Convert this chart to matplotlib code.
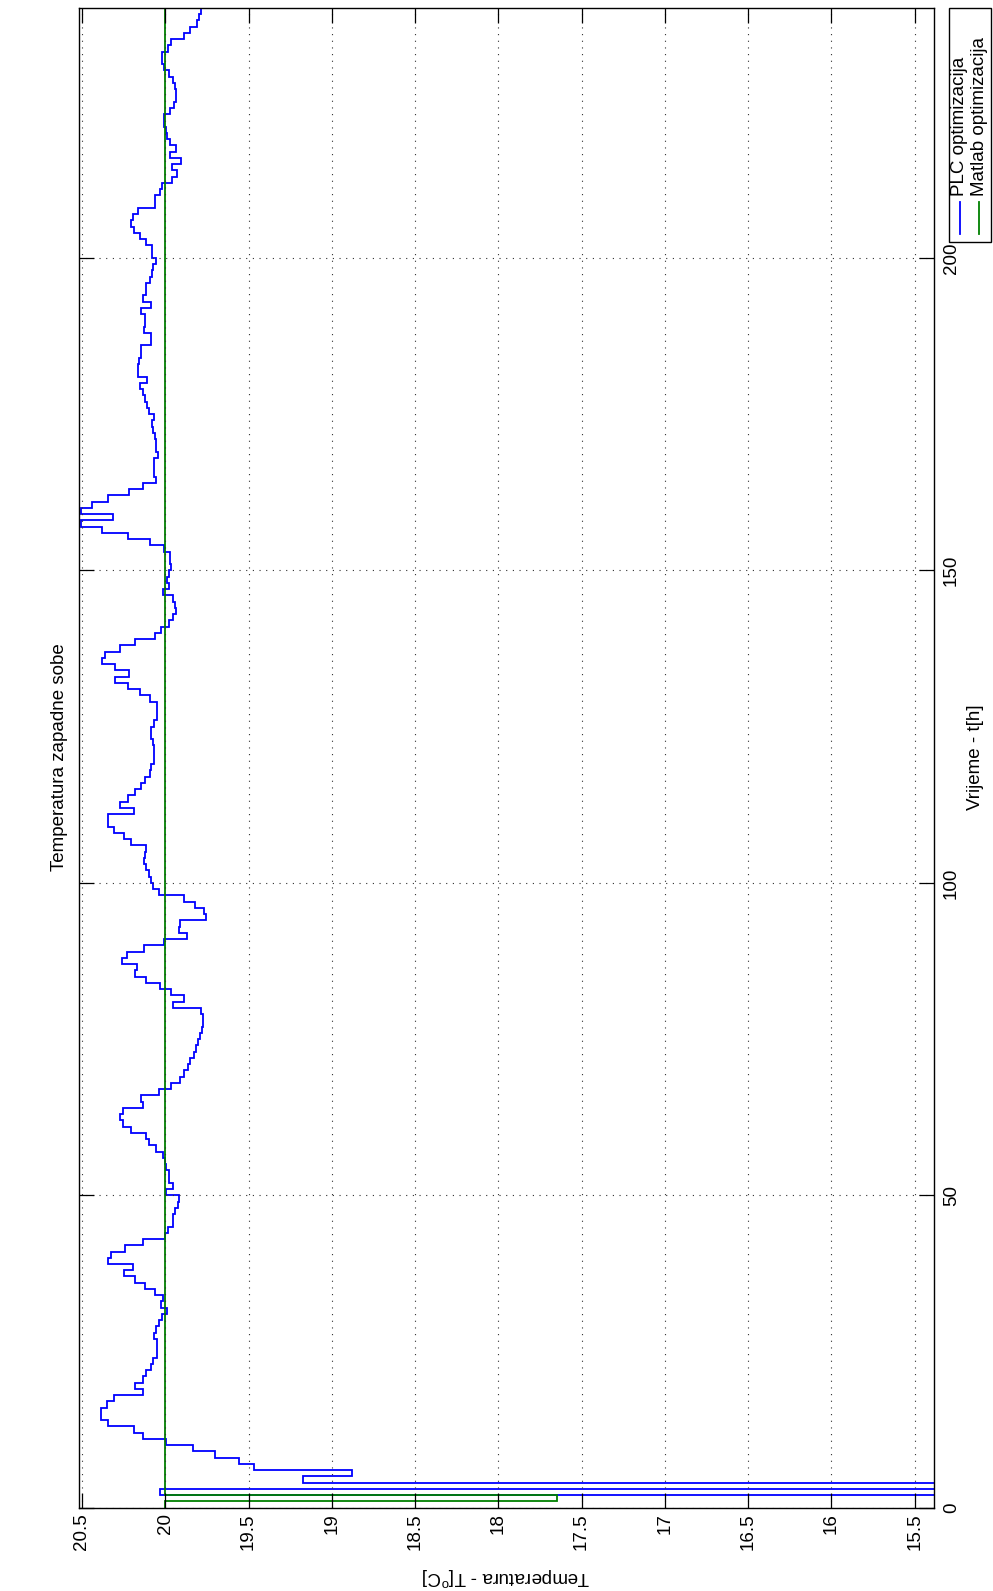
import numpy as np
import matplotlib
matplotlib.use('Agg')
import matplotlib.pyplot as plt
from matplotlib.lines import Line2D
from matplotlib.patches import Rectangle

plt.rcParams['font.family'] = ['Liberation Sans', 'DejaVu Sans']
plt.rcParams['mathtext.fontset'] = 'custom'
plt.rcParams['mathtext.rm'] = 'Liberation Sans'

# time edges (hours) and hourly temperatures
hours = np.arange(0, 241)

plc_temp = [
    15.0, 15.0, 20.03, 15.0, 19.17, 18.88, 19.47, 19.556, 19.70, 19.836,
    19.996, 20.132, 20.188, 20.344, 20.388, 20.388, 20.352, 20.308, 20.134, 20.18,
    20.132, 20.116, 20.088, 20.072, 20.052, 20.052, 20.052, 20.066, 20.056, 20.036,
    20.02, 19.988, 20.026, 20.016, 20.064, 20.12, 20.18, 20.246, 20.196, 20.344,
    20.328, 20.244, 20.134, 20.0, 19.985, 19.954, 19.954, 19.944, 19.924, 19.918,
    19.996, 19.956, 19.98, 19.98, 19.994, 20.004, 20.014, 20.054, 20.096, 20.116,
    20.206, 20.254, 20.274, 20.254, 20.136, 20.146, 20.036, 19.966, 19.91, 19.89,
    19.864, 19.85, 19.83, 19.814, 19.804, 19.79, 19.782, 19.774, 19.774, 19.784,
    19.956, 19.89, 19.964, 20.034, 20.116, 20.184, 20.17, 20.26, 20.228, 20.126,
    20.01, 19.87, 19.918, 19.91, 19.754, 19.77, 19.82, 19.89, 20.036, 20.074,
    20.086, 20.10, 20.114, 20.13, 20.124, 20.116, 20.206, 20.25, 20.306, 20.344,
    20.344, 20.19, 20.27, 20.224, 20.184, 20.144, 20.12, 20.09, 20.086, 20.07,
    20.07, 20.07, 20.076, 20.084, 20.084, 20.07, 20.05, 20.05, 20.05, 20.09,
    20.15, 20.224, 20.30, 20.22, 20.30, 20.378, 20.36, 20.27, 20.18, 20.064,
    20.026, 19.98, 19.954, 19.936, 19.944, 19.956, 20.014, 19.98, 19.99, 19.976,
    19.964, 19.97, 19.97, 20.006, 20.09, 20.226, 20.38, 20.506, 20.314, 20.506,
    20.44, 20.344, 20.216, 20.134, 20.054, 20.066, 20.066, 20.066, 20.046, 20.054,
    20.054, 20.064, 20.074, 20.078, 20.07, 20.098, 20.11, 20.124, 20.136, 20.15,
    20.11, 20.164, 20.164, 20.156, 20.144, 20.144, 20.084, 20.084, 20.13, 20.12,
    20.12, 20.144, 20.086, 20.136, 20.116, 20.116, 20.09, 20.08, 20.076, 20.054,
    20.08, 20.08, 20.114, 20.15, 20.19, 20.206, 20.196, 20.164, 20.064, 20.064,
    20.034, 20.018, 19.96, 19.93, 19.96, 19.904, 19.97, 19.938, 19.97, 19.99,
    19.996, 20.01, 20.006, 19.97, 19.946, 19.938, 19.938, 19.944, 19.954, 19.98,
    20.01, 20.018, 20.018, 19.984, 19.964, 19.89, 19.854, 19.81, 19.796, 19.784,
]

matlab_temp = [20.0, 17.65] + [20.0] * 238

temp_ticks = [20.5, 20.0, 19.5, 19.0, 18.5, 18.0, 17.5, 17.0, 16.5, 16.0, 15.5]
temp_labels = ['20.5', '20', '19.5', '19', '18.5', '18', '17.5', '17', '16.5', '16', '15.5']
hour_ticks = [0, 50, 100, 150, 200]
hour_labels = ['0', '50', '100', '150', '200']

W, H = 993, 1591
def fx(px):
    return px / W
def fy(py):
    return 1 - py / H

fig = plt.figure(figsize=(W / 100, H / 100), dpi=100)
ax = fig.add_axes([fx(79), fy(1507.7), (934 - 79) / W, (1507.7 - 8) / H])

plc = ax.stairs(plc_temp, hours, orientation='horizontal', baseline=None,
                color='#0000ff', linewidth=1.3)
mat = ax.stairs(matlab_temp, hours, orientation='horizontal', baseline=None,
                color='#008000', linewidth=1.3)

ax.set_xlim(20.518, 15.384)
ax.set_ylim(0, 240)
ax.set_xticks(temp_ticks, temp_labels)
ax.set_yticks(hour_ticks, hour_labels)
ax.grid(True, color='#303030', linestyle=(0, (1, 5)), linewidth=0.8)
ax.tick_params(direction='in', length=11, width=0.9, top=True, right=True,
               labelsize=13.5, colors='k')
ax.tick_params(axis='y', left=True, labelleft=False, labelright=True, pad=6.5)
ax.tick_params(axis='x', pad=4)
for lb in ax.get_xticklabels():
    lb.set_rotation(90)
    lb.set_va('top')
    lb.set_ha('center')
for lb in ax.get_yticklabels():
    lb.set_rotation(90)
    lb.set_va('center')
    lb.set_ha('left')
for sp in ax.spines.values():
    sp.set_linewidth(1.0)
    sp.set_color('k')

# titles / labels (figure is drawn rotated)
fig.text(fx(60), fy(757), 'Temperatura zapadne sobe', rotation=90,
         ha='center', va='center', fontsize=13.5)
fig.text(fx(976), fy(757), 'Vrijeme - t[h]', rotation=90,
         ha='center', va='center', fontsize=13.5)
fig.text(fx(506), fy(1576), r'Temperatura - T[$^{\mathrm{o}}$C]', rotation=180,
         ha='center', va='center', fontsize=13.5)

# legend, rotated by hand
fig.add_artist(Rectangle((fx(949), fy(242)), (991 - 949) / W, (242 - 8) / H,
                         transform=fig.transFigure, facecolor='white',
                         edgecolor='k', linewidth=1.0))
for xc, art, name in [(960, plc, 'PLC optimizacija'), (979, mat, 'Matlab optimizacija')]:
    fig.add_artist(Line2D([fx(xc), fx(xc)], [fy(234), fy(202)],
                          transform=fig.transFigure, color=art.get_edgecolor(),
                          linewidth=1.3))
    fig.text(fx(xc), fy(196), name, rotation=90, ha='center', va='bottom',
             fontsize=13.5)

fig.savefig('out.png', dpi=100)
